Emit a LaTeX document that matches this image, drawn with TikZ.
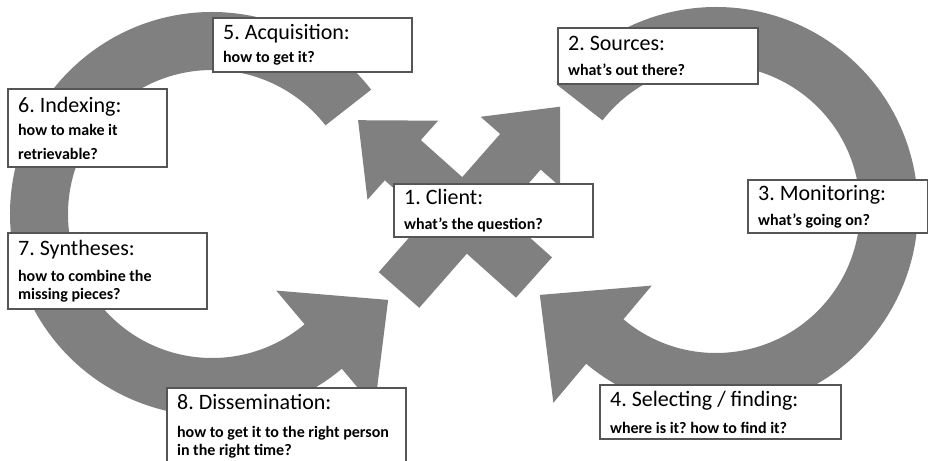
\documentclass[tikz,border=0pt]{standalone}
\usepackage{fontspec}
\setmainfont{Carlito}
\definecolor{arrowgray}{RGB}{128,128,128}
\definecolor{boxline}{RGB}{85,85,85}
\newcommand\subfont{\fontsize{8}{9}\selectfont\bfseries}
\frenchspacing

\begin{document}
\begin{tikzpicture}[x=0.5pt,y=0.5pt,line join=miter,
  stagebox/.style={draw=boxline,line width=1.1pt,fill=white,anchor=north west,
    align=flush left,inner xsep=5pt,inner ysep=0pt,font=\fontsize{11}{13}\selectfont}]
  \useasboundingbox (0,0) rectangle (928,461);
  % two rings, tail cut flat, head as a wide triangle
  \foreach \cx/\cy/\s/\e/\t in {212/247/38/310/334, 716/252/142/-130/-154} {
    \fill[arrowgray,shift={(\cx,\cy)}] (\s:202) arc[start angle=\s,end angle=\e,radius=202]
      -- (\e:253) -- (\t:196) -- (\e:100) -- (\e:144)
      arc[start angle=\e,end angle=\s,radius=144] -- cycle;
  }
  % the cross in the middle
  \foreach \tx/\ty/\a/\l in {399/171/48.7/244, 534/183.5/138.2/236} {
    \fill[arrowgray,shift={(\tx,\ty)},rotate=\a] (0,-27) -- ({\l-60},-27) -- ({\l-60},-53)
      -- (\l,0) -- ({\l-60},53) -- ({\l-60},27) -- (0,27) -- cycle;
  }
  \node[stagebox,text width=89.5pt,minimum height=26.5pt] (client) at (393,278)
    {1. Client:\\[3.5pt]\subfont what's the question?\par};
  \node[stagebox,text width=90pt,minimum height=28pt] (sources) at (557,434)
    {2. Sources:\\[3.5pt]\subfont what's out there?\par};
  \node[stagebox,text width=80pt,minimum height=26.5pt] (monitoring) at (747,282)
    {3. Monitoring:\\[3.5pt]\subfont what's going on?\par};
  \node[stagebox,text width=110.5pt,minimum height=27pt] (selecting) at (599,77)
    {4. Selecting / finding:\\[4.5pt]\subfont where is it? how to find it?\par};
  \node[stagebox,text width=89.5pt,minimum height=27pt] (acquisition) at (212,444)
    {5. Acquisition:\\[2.5pt]\subfont how to get it?\par};
  \node[stagebox,text width=69.5pt,minimum height=39pt] (indexing) at (7,373)
    {6. Indexing:\\[2.5pt]\subfont how to make it\\[3pt]retrievable?\par};
  \node[stagebox,text width=89.5pt,minimum height=38pt] (syntheses) at (7,229)
    {7. Syntheses:\\[4pt]\subfont how to combine the\\missing pieces?\par};
  \node[stagebox,text width=109.5pt,minimum height=38pt] (dissemination) at (166,74)
    {8. Dissemination:\\[5pt]\subfont how to get it to the right person\\in the right time?\par};
\end{tikzpicture}
\end{document}
